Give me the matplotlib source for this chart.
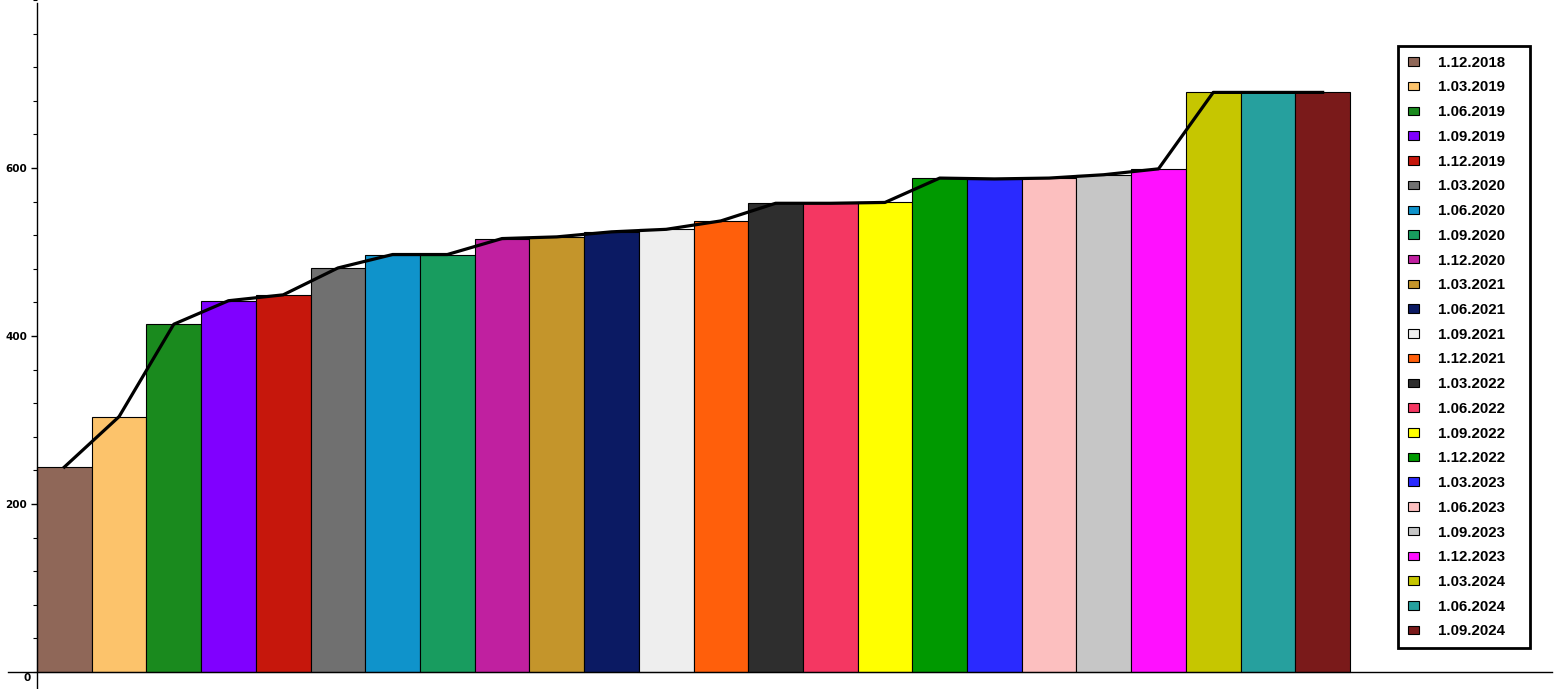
import numpy as np
import matplotlib

matplotlib.use("Agg")
import matplotlib.pyplot as plt
from matplotlib.ticker import MultipleLocator

# 数据：日期标签、数值、颜色
dates = ["1.12.2018", "1.03.2019", "1.06.2019", "1.09.2019", "1.12.2019",
         "1.03.2020", "1.06.2020", "1.09.2020", "1.12.2020", "1.03.2021",
         "1.06.2021", "1.09.2021", "1.12.2021", "1.03.2022", "1.06.2022",
         "1.09.2022", "1.12.2022", "1.03.2023", "1.06.2023", "1.09.2023",
         "1.12.2023", "1.03.2024", "1.06.2024", "1.09.2024"]
values = [244, 304, 414, 442, 449, 481, 497, 497, 516, 518,
          524, 527, 537, 558, 558, 559, 588, 587, 588, 592,
          599, 690, 690, 690]
colors = ["#8F6758", "#FCC36B", "#1A8A1E", "#8000FF", "#C6170C",
          "#707070", "#0F93CB", "#189C5F", "#C020A0", "#C4952B",
          "#0B1A63", "#EEEEEE", "#FF5F0B", "#2E2E2E", "#F43762",
          "#FFFF00", "#009900", "#2A2AFF", "#FCBFBF", "#C6C6C6",
          "#FF10FF", "#C6C600", "#26A09E", "#7A1A1A"]

W, H = 1561, 689
fig = plt.figure(figsize=(W / 100, H / 100), dpi=100)
ax = fig.add_axes([0, 0, 1, 1])

x = np.arange(1, len(values) + 1)

# 柱子
for xi, v, c, lab in zip(x, values, colors, dates):
    ax.bar(xi, v, width=1.0, color=c, edgecolor="black", linewidth=0.8,
           label=lab, zorder=2)

# 折线
ax.plot(x, values, color="black", linewidth=2.3, zorder=3)

# 坐标范围（像素对齐）
px_x = (1350 - 37) / 24.0
px_y = 0.84
ax.set_xlim(0.5 - 37 / px_x, 0.5 + (W - 37) / px_x)
ax.set_ylim(-(H - 672) / px_y, 672 / px_y)

# 坐标轴样式
for s in ["top", "right"]:
    ax.spines[s].set_visible(False)
ax.spines["left"].set_position(("data", 0.5))
ax.spines["bottom"].set_position(("data", 0))
ax.spines["left"].set_bounds(-20, 796)
ax.spines["bottom"].set_bounds(0.5 - 29 / px_x, 0.5 + (1552 - 37) / px_x)
ax.spines["left"].set_linewidth(1.0)
ax.spines["bottom"].set_linewidth(1.0)

ax.set_xticks([])
ax.set_yticks([200, 400, 600])
ax.yaxis.set_minor_locator(MultipleLocator(40))
ax.tick_params(axis="y", which="major", direction="out", length=4, width=1,
               pad=3, labelsize=7.5)
ax.tick_params(axis="y", which="minor", direction="out", length=3, width=0.8)
for t in ax.get_yticklabels():
    t.set_fontweight("bold")
ax.annotate("0", xy=(0.5, 0), xytext=(-4.5, -1), textcoords="offset points",
            ha="right", va="top", fontsize=7.5, fontweight="bold")

# 图例
leg = ax.legend(loc="upper left",
                bbox_to_anchor=(1398 / W, 1 - 46 / H - 0.01, 132 / W, 0.01),
                bbox_transform=fig.transFigure, mode="expand",
                prop={"family": "Liberation Sans", "weight": "bold", "size": 10.8},
                handlelength=0.75, handleheight=0.5, handletextpad=1.25,
                labelspacing=0.715, borderpad=0.65, borderaxespad=0,
                fancybox=False, framealpha=1, edgecolor="black")
leg.get_frame().set_linewidth(2)

fig.savefig("out.png", dpi=100)
